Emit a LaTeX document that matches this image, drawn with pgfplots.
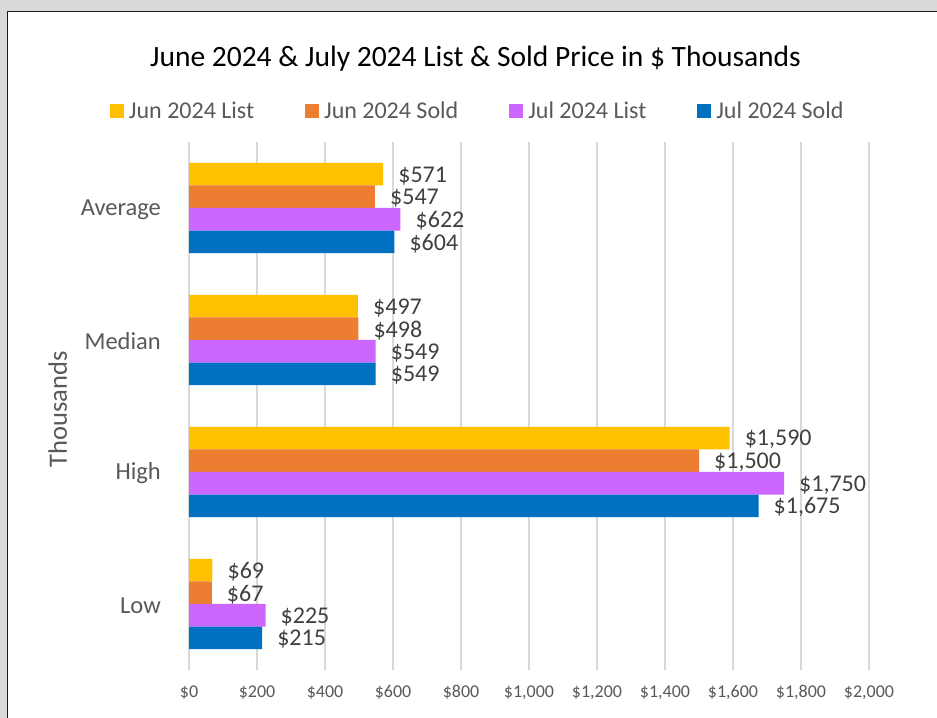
\documentclass[border=0pt]{standalone}
\usepackage{pgfplots}
\pgfplotsset{compat=1.18}
\usepackage{fontspec}
\setmainfont{Carlito}
\definecolor{cJunList}{HTML}{FFC000}
\definecolor{cJunSold}{HTML}{ED7D31}
\definecolor{cJulList}{HTML}{CC66FF}
\definecolor{cJulSold}{HTML}{0070C0}
\definecolor{txtgrey}{HTML}{595959}
\definecolor{lblgrey}{HTML}{404040}
\definecolor{gridgrey}{HTML}{D9D9D9}
\definecolor{bggrey}{HTML}{D9D9D9}
\begin{document}
\begin{tikzpicture}
\path[use as bounding box] (0,0) rectangle (937bp,718bp);
\fill[bggrey] (0,0) rectangle (937bp,718bp);
\filldraw[fill=white, draw=black!90, line width=1.7bp] (7.5bp,-10bp) rectangle (950bp,706.5bp);
\node[anchor=base, inner sep=0, text=black, font=\fontsize{29.5bp}{34bp}\selectfont] at (475.5bp,651bp) {June 2024 \& July 2024 List \& Sold Price in \$ Thousands};
\begin{axis}[
  at={(189bp,48bp)}, anchor=south west,
  scale only axis, width=680bp, height=528bp,
  xmin=0, xmax=2000, ymin=-0.5, ymax=3.5,
  enlargelimits=false,
  xtick={0,200,...,2000},
  ytick={0,1,2,3},
  yticklabels={Low,High,Median,Average},
  /pgf/number format/.cd, 1000 sep={,}, assume math mode=true, /pgfplots/.cd,
  xticklabel={\$\pgfmathprintnumber{\tick}},
  xticklabel style={anchor=north, inner sep=0, yshift=-15.5bp, text=txtgrey, font=\fontsize{18bp}{21bp}\selectfont},
  yticklabel style={anchor=east, inner sep=0, xshift=-28bp, yshift=-1.5bp, text=txtgrey, font=\fontsize{24.5bp}{28bp}\selectfont},
  major tick length=0pt,
  tick style={draw=none},
  axis line style={draw=none},
  xmajorgrids,
  grid style={draw=gridgrey, line width=1.4bp},
  ylabel={Thousands},
  ylabel style={at={(axis description cs:-0.193,0.494)}, anchor=center, inner sep=0, text=txtgrey, font=\fontsize{26.5bp}{30bp}\selectfont},
  xbar, bar width=0.1705,
  point meta=x,
  nodes near coords={\$\pgfmathprintnumber{\pgfplotspointmeta}},
  nodes near coords style={anchor=west, inner sep=0, xshift=15bp, yshift=-1.5bp, text=lblgrey, font=\fontsize{24bp}{28bp}\selectfont},
  legend columns=4,
  legend image code/.code={\fill[#1] (0bp,-7bp) rectangle (14bp,7bp);},
  legend style={at={(axis description cs:-0.1162,1.0587)}, anchor=west, draw=none, fill=none, inner sep=0, outer sep=0,
    font=\fontsize{24bp}{28bp}\selectfont, text=txtgrey,
    nodes={inner sep=0},
    /tikz/every odd column/.append style={column sep=5bp},
    /tikz/every even column/.append style={column sep=51bp}},
  legend cell align=left,
]
\addplot[fill=cJunList, draw=none, bar shift=0.25575] coordinates {(69,0) (1590,1) (497,2) (571,3)};
\addplot[fill=cJunSold, draw=none, bar shift=0.08525] coordinates {(67,0) (1500,1) (498,2) (547,3)};
\addplot[fill=cJulList, draw=none, bar shift=-0.08525] coordinates {(225,0) (1750,1) (549,2) (622,3)};
\addplot[fill=cJulSold, draw=none, bar shift=-0.25575] coordinates {(215,0) (1675,1) (549,2) (604,3)};
\legend{Jun 2024 List, Jun 2024 Sold, Jul 2024 List, Jul 2024 Sold}
\end{axis}
\end{tikzpicture}
\end{document}
